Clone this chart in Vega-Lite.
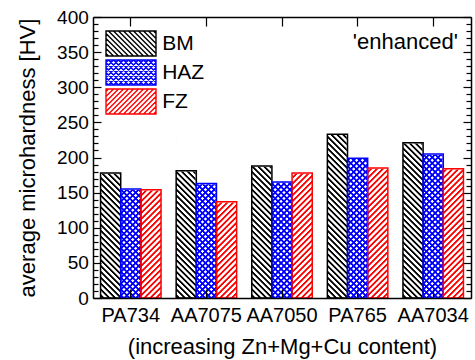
{
  "$schema": "https://vega.github.io/schema/vega-lite/v6.json",
  "width": 378,
  "height": 281,
  "autosize": "none",
  "padding": {"left": 93, "top": 17, "right": 4, "bottom": 62},
  "config": {"view": {"stroke": null}, "font": "Liberation Sans"},
  "data": {"values": [
    {"alloy": "PA734", "series": "BM", "value": 178},
    {"alloy": "PA734", "series": "HAZ", "value": 155},
    {"alloy": "PA734", "series": "FZ", "value": 154},
    {"alloy": "AA7075", "series": "BM", "value": 181},
    {"alloy": "AA7075", "series": "HAZ", "value": 163},
    {"alloy": "AA7075", "series": "FZ", "value": 137},
    {"alloy": "AA7050", "series": "BM", "value": 188},
    {"alloy": "AA7050", "series": "HAZ", "value": 165},
    {"alloy": "AA7050", "series": "FZ", "value": 178},
    {"alloy": "PA765", "series": "BM", "value": 233},
    {"alloy": "PA765", "series": "HAZ", "value": 199},
    {"alloy": "PA765", "series": "FZ", "value": 185},
    {"alloy": "AA7034", "series": "BM", "value": 221},
    {"alloy": "AA7034", "series": "HAZ", "value": 205},
    {"alloy": "AA7034", "series": "FZ", "value": 184}
  ]},
  "layer": [
    {
      "mark": {"type": "bar"},
      "encoding": {
        "x": {"field": "alloy", "type": "nominal",
          "scale": {"domain": ["PA734", "AA7075", "AA7050", "PA765", "AA7034"], "paddingInner": 0.2, "paddingOuter": 0.1},
          "axis": {"orient": "bottom", "title": "(increasing Zn+Mg+Cu content)", "titleFontSize": 22, "titleFontWeight": "normal", "titleColor": "#000", "titlePadding": 11,
            "labelFontSize": 20, "labelColor": "#000", "labelAngle": 0, "labelPadding": 16, "labelOverlap": false,
            "tickSize": -9, "tickColor": "#000", "tickWidth": 1.2, "domainColor": "#000", "domainWidth": 1.5, "zindex": 1}},
        "xOffset": {"field": "series", "type": "nominal", "scale": {"domain": ["BM", "HAZ", "FZ"], "paddingInner": 0, "paddingOuter": 0}},
        "y": {"datum": 250, "type": "quantitative", "scale": {"domain": [0, 400]},
          "axis": {"orient": "left", "title": "average microhardness [HV]", "titleFontSize": 22, "titleFontWeight": "normal", "titleColor": "#000", "titlePadding": 17,
            "grid": false, "values": [0,10,20,30,40,50,60,70,80,90,100,110,120,130,140,150,160,170,180,190,200,210,220,230,240,250,260,270,280,290,300,310,320,330,340,350,360,370,380,390,400],
            "labelExpr": "datum.value % 50 === 0 ? datum.label : ''", "labelFontSize": 19, "labelColor": "#000", "labelPadding": 12.7, "labelOverlap": false, "labelFlush": false,
            "tickSize": {"condition": {"test": "datum.value % 50 === 0", "value": -8}, "value": -5},
            "tickColor": "#000", "tickWidth": 1.2, "domainColor": "#000", "domainWidth": 1.5, "zindex": 1}},
        "y2": {"datum": 0},
        "fill": {
          "condition": [
            {"test": "datum.series === 'BM'", "value": {"gradient": "linear", "x1": 0, "y1": 1, "x2": 0.1263, "y2": -0.1003, "stops": [
              {"offset":0.006,"color":"#fff"},{"offset":0.011,"color":"#000"},{"offset":0.019,"color":"#000"},{"offset":0.024,"color":"#fff"},
              {"offset":0.036,"color":"#fff"},{"offset":0.041,"color":"#000"},{"offset":0.049,"color":"#000"},{"offset":0.054,"color":"#fff"},
              {"offset":0.066,"color":"#fff"},{"offset":0.071,"color":"#000"},{"offset":0.079,"color":"#000"},{"offset":0.084,"color":"#fff"},
              {"offset":0.096,"color":"#fff"},{"offset":0.101,"color":"#000"},{"offset":0.109,"color":"#000"},{"offset":0.114,"color":"#fff"},
              {"offset":0.126,"color":"#fff"},{"offset":0.131,"color":"#000"},{"offset":0.139,"color":"#000"},{"offset":0.144,"color":"#fff"},
              {"offset":0.156,"color":"#fff"},{"offset":0.161,"color":"#000"},{"offset":0.169,"color":"#000"},{"offset":0.174,"color":"#fff"},
              {"offset":0.186,"color":"#fff"},{"offset":0.191,"color":"#000"},{"offset":0.199,"color":"#000"},{"offset":0.204,"color":"#fff"},
              {"offset":0.216,"color":"#fff"},{"offset":0.221,"color":"#000"},{"offset":0.229,"color":"#000"},{"offset":0.234,"color":"#fff"},
              {"offset":0.246,"color":"#fff"},{"offset":0.251,"color":"#000"},{"offset":0.259,"color":"#000"},{"offset":0.264,"color":"#fff"},
              {"offset":0.276,"color":"#fff"},{"offset":0.281,"color":"#000"},{"offset":0.289,"color":"#000"},{"offset":0.294,"color":"#fff"},
              {"offset":0.306,"color":"#fff"},{"offset":0.311,"color":"#000"},{"offset":0.319,"color":"#000"},{"offset":0.324,"color":"#fff"},
              {"offset":0.336,"color":"#fff"},{"offset":0.341,"color":"#000"},{"offset":0.349,"color":"#000"},{"offset":0.354,"color":"#fff"},
              {"offset":0.366,"color":"#fff"},{"offset":0.371,"color":"#000"},{"offset":0.379,"color":"#000"},{"offset":0.384,"color":"#fff"},
              {"offset":0.396,"color":"#fff"},{"offset":0.401,"color":"#000"},{"offset":0.409,"color":"#000"},{"offset":0.414,"color":"#fff"},
              {"offset":0.426,"color":"#fff"},{"offset":0.431,"color":"#000"},{"offset":0.439,"color":"#000"},{"offset":0.444,"color":"#fff"},
              {"offset":0.456,"color":"#fff"},{"offset":0.461,"color":"#000"},{"offset":0.469,"color":"#000"},{"offset":0.474,"color":"#fff"},
              {"offset":0.486,"color":"#fff"},{"offset":0.491,"color":"#000"},{"offset":0.499,"color":"#000"},{"offset":0.504,"color":"#fff"},
              {"offset":0.516,"color":"#fff"},{"offset":0.521,"color":"#000"},{"offset":0.529,"color":"#000"},{"offset":0.534,"color":"#fff"},
              {"offset":0.546,"color":"#fff"},{"offset":0.551,"color":"#000"},{"offset":0.559,"color":"#000"},{"offset":0.564,"color":"#fff"},
              {"offset":0.576,"color":"#fff"},{"offset":0.581,"color":"#000"},{"offset":0.589,"color":"#000"},{"offset":0.594,"color":"#fff"},
              {"offset":0.606,"color":"#fff"},{"offset":0.611,"color":"#000"},{"offset":0.619,"color":"#000"},{"offset":0.624,"color":"#fff"},
              {"offset":0.636,"color":"#fff"},{"offset":0.641,"color":"#000"},{"offset":0.649,"color":"#000"},{"offset":0.654,"color":"#fff"},
              {"offset":0.666,"color":"#fff"},{"offset":0.671,"color":"#000"},{"offset":0.679,"color":"#000"},{"offset":0.684,"color":"#fff"},
              {"offset":0.696,"color":"#fff"},{"offset":0.701,"color":"#000"},{"offset":0.709,"color":"#000"},{"offset":0.714,"color":"#fff"},
              {"offset":0.726,"color":"#fff"},{"offset":0.731,"color":"#000"},{"offset":0.739,"color":"#000"},{"offset":0.744,"color":"#fff"},
              {"offset":0.756,"color":"#fff"},{"offset":0.761,"color":"#000"},{"offset":0.769,"color":"#000"},{"offset":0.774,"color":"#fff"},
              {"offset":0.786,"color":"#fff"},{"offset":0.791,"color":"#000"},{"offset":0.799,"color":"#000"},{"offset":0.804,"color":"#fff"},
              {"offset":0.816,"color":"#fff"},{"offset":0.821,"color":"#000"},{"offset":0.829,"color":"#000"},{"offset":0.834,"color":"#fff"},
              {"offset":0.846,"color":"#fff"},{"offset":0.851,"color":"#000"},{"offset":0.859,"color":"#000"},{"offset":0.864,"color":"#fff"},
              {"offset":0.876,"color":"#fff"},{"offset":0.881,"color":"#000"},{"offset":0.889,"color":"#000"},{"offset":0.894,"color":"#fff"},
              {"offset":0.906,"color":"#fff"},{"offset":0.911,"color":"#000"},{"offset":0.919,"color":"#000"},{"offset":0.924,"color":"#fff"},
              {"offset":0.936,"color":"#fff"},{"offset":0.941,"color":"#000"},{"offset":0.949,"color":"#000"},{"offset":0.954,"color":"#fff"}
            ]}},
            {"test": "datum.series === 'HAZ'", "value": {"gradient": "linear", "x1": 0, "y1": 1, "x2": 0.1263, "y2": -0.1003, "stops": [
              {"offset":0.006,"color":"#fff"},{"offset":0.011,"color":"#00f"},{"offset":0.019,"color":"#00f"},{"offset":0.024,"color":"#fff"},
              {"offset":0.036,"color":"#fff"},{"offset":0.041,"color":"#00f"},{"offset":0.049,"color":"#00f"},{"offset":0.054,"color":"#fff"},
              {"offset":0.066,"color":"#fff"},{"offset":0.071,"color":"#00f"},{"offset":0.079,"color":"#00f"},{"offset":0.084,"color":"#fff"},
              {"offset":0.096,"color":"#fff"},{"offset":0.101,"color":"#00f"},{"offset":0.109,"color":"#00f"},{"offset":0.114,"color":"#fff"},
              {"offset":0.126,"color":"#fff"},{"offset":0.131,"color":"#00f"},{"offset":0.139,"color":"#00f"},{"offset":0.144,"color":"#fff"},
              {"offset":0.156,"color":"#fff"},{"offset":0.161,"color":"#00f"},{"offset":0.169,"color":"#00f"},{"offset":0.174,"color":"#fff"},
              {"offset":0.186,"color":"#fff"},{"offset":0.191,"color":"#00f"},{"offset":0.199,"color":"#00f"},{"offset":0.204,"color":"#fff"},
              {"offset":0.216,"color":"#fff"},{"offset":0.221,"color":"#00f"},{"offset":0.229,"color":"#00f"},{"offset":0.234,"color":"#fff"},
              {"offset":0.246,"color":"#fff"},{"offset":0.251,"color":"#00f"},{"offset":0.259,"color":"#00f"},{"offset":0.264,"color":"#fff"},
              {"offset":0.276,"color":"#fff"},{"offset":0.281,"color":"#00f"},{"offset":0.289,"color":"#00f"},{"offset":0.294,"color":"#fff"},
              {"offset":0.306,"color":"#fff"},{"offset":0.311,"color":"#00f"},{"offset":0.319,"color":"#00f"},{"offset":0.324,"color":"#fff"},
              {"offset":0.336,"color":"#fff"},{"offset":0.341,"color":"#00f"},{"offset":0.349,"color":"#00f"},{"offset":0.354,"color":"#fff"},
              {"offset":0.366,"color":"#fff"},{"offset":0.371,"color":"#00f"},{"offset":0.379,"color":"#00f"},{"offset":0.384,"color":"#fff"},
              {"offset":0.396,"color":"#fff"},{"offset":0.401,"color":"#00f"},{"offset":0.409,"color":"#00f"},{"offset":0.414,"color":"#fff"},
              {"offset":0.426,"color":"#fff"},{"offset":0.431,"color":"#00f"},{"offset":0.439,"color":"#00f"},{"offset":0.444,"color":"#fff"},
              {"offset":0.456,"color":"#fff"},{"offset":0.461,"color":"#00f"},{"offset":0.469,"color":"#00f"},{"offset":0.474,"color":"#fff"},
              {"offset":0.486,"color":"#fff"},{"offset":0.491,"color":"#00f"},{"offset":0.499,"color":"#00f"},{"offset":0.504,"color":"#fff"},
              {"offset":0.516,"color":"#fff"},{"offset":0.521,"color":"#00f"},{"offset":0.529,"color":"#00f"},{"offset":0.534,"color":"#fff"},
              {"offset":0.546,"color":"#fff"},{"offset":0.551,"color":"#00f"},{"offset":0.559,"color":"#00f"},{"offset":0.564,"color":"#fff"},
              {"offset":0.576,"color":"#fff"},{"offset":0.581,"color":"#00f"},{"offset":0.589,"color":"#00f"},{"offset":0.594,"color":"#fff"},
              {"offset":0.606,"color":"#fff"},{"offset":0.611,"color":"#00f"},{"offset":0.619,"color":"#00f"},{"offset":0.624,"color":"#fff"},
              {"offset":0.636,"color":"#fff"},{"offset":0.641,"color":"#00f"},{"offset":0.649,"color":"#00f"},{"offset":0.654,"color":"#fff"},
              {"offset":0.666,"color":"#fff"},{"offset":0.671,"color":"#00f"},{"offset":0.679,"color":"#00f"},{"offset":0.684,"color":"#fff"},
              {"offset":0.696,"color":"#fff"},{"offset":0.701,"color":"#00f"},{"offset":0.709,"color":"#00f"},{"offset":0.714,"color":"#fff"},
              {"offset":0.726,"color":"#fff"},{"offset":0.731,"color":"#00f"},{"offset":0.739,"color":"#00f"},{"offset":0.744,"color":"#fff"},
              {"offset":0.756,"color":"#fff"},{"offset":0.761,"color":"#00f"},{"offset":0.769,"color":"#00f"},{"offset":0.774,"color":"#fff"},
              {"offset":0.786,"color":"#fff"},{"offset":0.791,"color":"#00f"},{"offset":0.799,"color":"#00f"},{"offset":0.804,"color":"#fff"},
              {"offset":0.816,"color":"#fff"},{"offset":0.821,"color":"#00f"},{"offset":0.829,"color":"#00f"},{"offset":0.834,"color":"#fff"},
              {"offset":0.846,"color":"#fff"},{"offset":0.851,"color":"#00f"},{"offset":0.859,"color":"#00f"},{"offset":0.864,"color":"#fff"},
              {"offset":0.876,"color":"#fff"},{"offset":0.881,"color":"#00f"},{"offset":0.889,"color":"#00f"},{"offset":0.894,"color":"#fff"}
            ]}}
          ],
          "value": {"gradient": "linear", "x1": 0, "y1": 0, "x2": 0.1263, "y2": 1.1003, "stops": [
            {"offset":0.216,"color":"#fff"},{"offset":0.221,"color":"#f00"},{"offset":0.229,"color":"#f00"},{"offset":0.234,"color":"#fff"},
            {"offset":0.246,"color":"#fff"},{"offset":0.251,"color":"#f00"},{"offset":0.259,"color":"#f00"},{"offset":0.264,"color":"#fff"},
            {"offset":0.276,"color":"#fff"},{"offset":0.281,"color":"#f00"},{"offset":0.289,"color":"#f00"},{"offset":0.294,"color":"#fff"},
            {"offset":0.306,"color":"#fff"},{"offset":0.311,"color":"#f00"},{"offset":0.319,"color":"#f00"},{"offset":0.324,"color":"#fff"},
            {"offset":0.336,"color":"#fff"},{"offset":0.341,"color":"#f00"},{"offset":0.349,"color":"#f00"},{"offset":0.354,"color":"#fff"},
            {"offset":0.366,"color":"#fff"},{"offset":0.371,"color":"#f00"},{"offset":0.379,"color":"#f00"},{"offset":0.384,"color":"#fff"},
            {"offset":0.396,"color":"#fff"},{"offset":0.401,"color":"#f00"},{"offset":0.409,"color":"#f00"},{"offset":0.414,"color":"#fff"},
            {"offset":0.426,"color":"#fff"},{"offset":0.431,"color":"#f00"},{"offset":0.439,"color":"#f00"},{"offset":0.444,"color":"#fff"},
            {"offset":0.456,"color":"#fff"},{"offset":0.461,"color":"#f00"},{"offset":0.469,"color":"#f00"},{"offset":0.474,"color":"#fff"},
            {"offset":0.486,"color":"#fff"},{"offset":0.491,"color":"#f00"},{"offset":0.499,"color":"#f00"},{"offset":0.504,"color":"#fff"},
            {"offset":0.516,"color":"#fff"},{"offset":0.521,"color":"#f00"},{"offset":0.529,"color":"#f00"},{"offset":0.534,"color":"#fff"},
            {"offset":0.546,"color":"#fff"},{"offset":0.551,"color":"#f00"},{"offset":0.559,"color":"#f00"},{"offset":0.564,"color":"#fff"},
            {"offset":0.576,"color":"#fff"},{"offset":0.581,"color":"#f00"},{"offset":0.589,"color":"#f00"},{"offset":0.594,"color":"#fff"},
            {"offset":0.606,"color":"#fff"},{"offset":0.611,"color":"#f00"},{"offset":0.619,"color":"#f00"},{"offset":0.624,"color":"#fff"},
            {"offset":0.636,"color":"#fff"},{"offset":0.641,"color":"#f00"},{"offset":0.649,"color":"#f00"},{"offset":0.654,"color":"#fff"},
            {"offset":0.666,"color":"#fff"},{"offset":0.671,"color":"#f00"},{"offset":0.679,"color":"#f00"},{"offset":0.684,"color":"#fff"},
            {"offset":0.696,"color":"#fff"},{"offset":0.701,"color":"#f00"},{"offset":0.709,"color":"#f00"},{"offset":0.714,"color":"#fff"},
            {"offset":0.726,"color":"#fff"},{"offset":0.731,"color":"#f00"},{"offset":0.739,"color":"#f00"},{"offset":0.744,"color":"#fff"},
            {"offset":0.756,"color":"#fff"},{"offset":0.761,"color":"#f00"},{"offset":0.769,"color":"#f00"},{"offset":0.774,"color":"#fff"},
            {"offset":0.786,"color":"#fff"},{"offset":0.791,"color":"#f00"},{"offset":0.799,"color":"#f00"},{"offset":0.804,"color":"#fff"},
            {"offset":0.816,"color":"#fff"},{"offset":0.821,"color":"#f00"},{"offset":0.829,"color":"#f00"},{"offset":0.834,"color":"#fff"},
            {"offset":0.846,"color":"#fff"},{"offset":0.851,"color":"#f00"},{"offset":0.859,"color":"#f00"},{"offset":0.864,"color":"#fff"},
            {"offset":0.876,"color":"#fff"},{"offset":0.881,"color":"#f00"},{"offset":0.889,"color":"#f00"},{"offset":0.894,"color":"#fff"},
            {"offset":0.906,"color":"#fff"},{"offset":0.911,"color":"#f00"},{"offset":0.919,"color":"#f00"},{"offset":0.924,"color":"#fff"},
            {"offset":0.936,"color":"#fff"},{"offset":0.941,"color":"#f00"},{"offset":0.949,"color":"#f00"},{"offset":0.954,"color":"#fff"},
            {"offset":0.966,"color":"#fff"},{"offset":0.971,"color":"#f00"},{"offset":0.979,"color":"#f00"},{"offset":0.984,"color":"#fff"}
          ]}
        }
      }
    },
    {
      "transform": [{"filter": "datum.series === 'HAZ'"}],
      "mark": {"type": "bar"},
      "encoding": {
        "x": {"field": "alloy", "type": "nominal",
          "scale": {"domain": ["PA734", "AA7075", "AA7050", "PA765", "AA7034"], "paddingInner": 0.2, "paddingOuter": 0.1},
          "axis": {"orient": "top", "title": null, "labels": false, "tickSize": -9, "tickColor": "#000", "tickWidth": 1.2, "domainColor": "#000", "domainWidth": 1.5, "zindex": 1}},
        "xOffset": {"field": "series", "type": "nominal", "scale": {"domain": ["BM", "HAZ", "FZ"], "paddingInner": 0, "paddingOuter": 0}},
        "y": {"datum": 250, "type": "quantitative", "scale": {"domain": [0, 400]},
          "axis": {"orient": "right", "title": null, "labels": false, "grid": false,
            "values": [0,10,20,30,40,50,60,70,80,90,100,110,120,130,140,150,160,170,180,190,200,210,220,230,240,250,260,270,280,290,300,310,320,330,340,350,360,370,380,390,400],
            "tickSize": {"condition": {"test": "datum.value % 50 === 0", "value": -8}, "value": -5},
            "tickColor": "#000", "tickWidth": 1.2, "domainColor": "#000", "domainWidth": 1.5, "zindex": 1}},
        "y2": {"datum": 0},
        "fill": {"value": {"gradient": "linear", "x1": 0, "y1": 0, "x2": 0.1263, "y2": 1.1003, "stops": [
          {"offset":0.156,"color":"#00f0"},{"offset":0.161,"color":"#00f"},{"offset":0.169,"color":"#00f"},{"offset":0.174,"color":"#00f0"},
          {"offset":0.186,"color":"#00f0"},{"offset":0.191,"color":"#00f"},{"offset":0.199,"color":"#00f"},{"offset":0.204,"color":"#00f0"},
          {"offset":0.216,"color":"#00f0"},{"offset":0.221,"color":"#00f"},{"offset":0.229,"color":"#00f"},{"offset":0.234,"color":"#00f0"},
          {"offset":0.246,"color":"#00f0"},{"offset":0.251,"color":"#00f"},{"offset":0.259,"color":"#00f"},{"offset":0.264,"color":"#00f0"},
          {"offset":0.276,"color":"#00f0"},{"offset":0.281,"color":"#00f"},{"offset":0.289,"color":"#00f"},{"offset":0.294,"color":"#00f0"},
          {"offset":0.306,"color":"#00f0"},{"offset":0.311,"color":"#00f"},{"offset":0.319,"color":"#00f"},{"offset":0.324,"color":"#00f0"},
          {"offset":0.336,"color":"#00f0"},{"offset":0.341,"color":"#00f"},{"offset":0.349,"color":"#00f"},{"offset":0.354,"color":"#00f0"},
          {"offset":0.366,"color":"#00f0"},{"offset":0.371,"color":"#00f"},{"offset":0.379,"color":"#00f"},{"offset":0.384,"color":"#00f0"},
          {"offset":0.396,"color":"#00f0"},{"offset":0.401,"color":"#00f"},{"offset":0.409,"color":"#00f"},{"offset":0.414,"color":"#00f0"},
          {"offset":0.426,"color":"#00f0"},{"offset":0.431,"color":"#00f"},{"offset":0.439,"color":"#00f"},{"offset":0.444,"color":"#00f0"},
          {"offset":0.456,"color":"#00f0"},{"offset":0.461,"color":"#00f"},{"offset":0.469,"color":"#00f"},{"offset":0.474,"color":"#00f0"},
          {"offset":0.486,"color":"#00f0"},{"offset":0.491,"color":"#00f"},{"offset":0.499,"color":"#00f"},{"offset":0.504,"color":"#00f0"},
          {"offset":0.516,"color":"#00f0"},{"offset":0.521,"color":"#00f"},{"offset":0.529,"color":"#00f"},{"offset":0.534,"color":"#00f0"},
          {"offset":0.546,"color":"#00f0"},{"offset":0.551,"color":"#00f"},{"offset":0.559,"color":"#00f"},{"offset":0.564,"color":"#00f0"},
          {"offset":0.576,"color":"#00f0"},{"offset":0.581,"color":"#00f"},{"offset":0.589,"color":"#00f"},{"offset":0.594,"color":"#00f0"},
          {"offset":0.606,"color":"#00f0"},{"offset":0.611,"color":"#00f"},{"offset":0.619,"color":"#00f"},{"offset":0.624,"color":"#00f0"},
          {"offset":0.636,"color":"#00f0"},{"offset":0.641,"color":"#00f"},{"offset":0.649,"color":"#00f"},{"offset":0.654,"color":"#00f0"},
          {"offset":0.666,"color":"#00f0"},{"offset":0.671,"color":"#00f"},{"offset":0.679,"color":"#00f"},{"offset":0.684,"color":"#00f0"},
          {"offset":0.696,"color":"#00f0"},{"offset":0.701,"color":"#00f"},{"offset":0.709,"color":"#00f"},{"offset":0.714,"color":"#00f0"},
          {"offset":0.726,"color":"#00f0"},{"offset":0.731,"color":"#00f"},{"offset":0.739,"color":"#00f"},{"offset":0.744,"color":"#00f0"},
          {"offset":0.756,"color":"#00f0"},{"offset":0.761,"color":"#00f"},{"offset":0.769,"color":"#00f"},{"offset":0.774,"color":"#00f0"},
          {"offset":0.786,"color":"#00f0"},{"offset":0.791,"color":"#00f"},{"offset":0.799,"color":"#00f"},{"offset":0.804,"color":"#00f0"},
          {"offset":0.816,"color":"#00f0"},{"offset":0.821,"color":"#00f"},{"offset":0.829,"color":"#00f"},{"offset":0.834,"color":"#00f0"},
          {"offset":0.846,"color":"#00f0"},{"offset":0.851,"color":"#00f"},{"offset":0.859,"color":"#00f"},{"offset":0.864,"color":"#00f0"},
          {"offset":0.876,"color":"#00f0"},{"offset":0.881,"color":"#00f"},{"offset":0.889,"color":"#00f"},{"offset":0.894,"color":"#00f0"},
          {"offset":0.906,"color":"#00f0"},{"offset":0.911,"color":"#00f"},{"offset":0.919,"color":"#00f"},{"offset":0.924,"color":"#00f0"},
          {"offset":0.936,"color":"#00f0"},{"offset":0.941,"color":"#00f"},{"offset":0.949,"color":"#00f"},{"offset":0.954,"color":"#00f0"},
          {"offset":0.966,"color":"#00f0"},{"offset":0.971,"color":"#00f"},{"offset":0.979,"color":"#00f"},{"offset":0.984,"color":"#00f0"}
        ]}}
      }
    },
    {
      "mark": {"type": "bar", "fill": "#fff", "stroke": "#fff", "strokeWidth": 1.5},
      "encoding": {
        "x": {"field": "alloy", "type": "nominal", "scale": {"domain": ["PA734", "AA7075", "AA7050", "PA765", "AA7034"], "paddingInner": 0.2, "paddingOuter": 0.1}, "axis": null},
        "xOffset": {"field": "series", "type": "nominal", "scale": {"domain": ["BM", "HAZ", "FZ"], "paddingInner": 0, "paddingOuter": 0}},
        "y": {"field": "value", "type": "quantitative", "scale": {"domain": [0, 400]}, "axis": null},
        "y2": {"datum": 250}
      }
    },
    {
      "mark": {"type": "bar", "fill": "transparent", "strokeWidth": 1.5},
      "encoding": {
        "x": {"field": "alloy", "type": "nominal", "scale": {"domain": ["PA734", "AA7075", "AA7050", "PA765", "AA7034"], "paddingInner": 0.2, "paddingOuter": 0.1}, "axis": null},
        "xOffset": {"field": "series", "type": "nominal", "scale": {"domain": ["BM", "HAZ", "FZ"], "paddingInner": 0, "paddingOuter": 0}},
        "y": {"field": "value", "type": "quantitative", "scale": {"domain": [0, 400]}, "axis": null},
        "stroke": {"condition": [{"test": "datum.series === 'BM'", "value": "#000"}, {"test": "datum.series === 'HAZ'", "value": "#00f"}], "value": "#f00"}
      }
    },
    {
      "mark": {"type": "point", "opacity": 0, "filled": false},
      "encoding": {
        "x": {"field": "alloy", "type": "nominal", "scale": {"domain": ["PA734", "AA7075", "AA7050", "PA765", "AA7034"], "paddingInner": 0.2, "paddingOuter": 0.1}, "axis": null},
        "xOffset": {"field": "series", "type": "nominal", "scale": {"domain": ["BM", "HAZ", "FZ"], "paddingInner": 0, "paddingOuter": 0}},
        "y": {"field": "value", "type": "quantitative", "scale": {"domain": [0, 400]}, "axis": null},
        "stroke": {"field": "series", "type": "nominal",
          "scale": {"domain": ["BM", "HAZ", "FZ"], "range": ["#000000", "#0000ff", "#ff0000"]},
          "legend": {"title": null, "orient": "top-left", "offset": 13, "padding": 0,
            "labelFont": "Liberation Sans", "labelFontSize": 21, "labelColor": "#000", "labelOffset": 17.7,
            "symbolSize": 625, "symbolOffset": 11.5, "symbolStrokeWidth": 1.4, "symbolOpacity": 1, "symbolFillColor": "transparent", "rowPadding": -3.5}},
        "shape": {"field": "series", "type": "nominal",
          "scale": {"domain": ["BM", "HAZ", "FZ"], "range": [
            "M-2,-1H2V1H-2Z M1.8,-1L2,-0.8 M1.4,-1L2,-0.4 M1,-1L2,0 M0.6,-1L2,0.4 M0.2,-1L2,0.8 M-0.2,-1L1.8,1 M-0.6,-1L1.4,1 M-1,-1L1,1 M-1.4,-1L0.6,1 M-1.8,-1L0.2,1 M-2,-0.8L-0.2,1 M-2,-0.4L-0.6,1 M-2,0L-1,1 M-2,0.4L-1.4,1 M-2,0.8L-1.8,1",
            "M-2,-1H2V1H-2Z M1.8,-1L2,-0.8 M1.4,-1L2,-0.4 M1,-1L2,0 M0.6,-1L2,0.4 M0.2,-1L2,0.8 M-0.2,-1L1.8,1 M-0.6,-1L1.4,1 M-1,-1L1,1 M-1.4,-1L0.6,1 M-1.8,-1L0.2,1 M-2,-0.8L-0.2,1 M-2,-0.4L-0.6,1 M-2,0L-1,1 M-2,0.4L-1.4,1 M-2,0.8L-1.8,1 M-1.8,-1L-2,-0.8 M-1.4,-1L-2,-0.4 M-1,-1L-2,0 M-0.6,-1L-2,0.4 M-0.2,-1L-2,0.8 M0.2,-1L-1.8,1 M0.6,-1L-1.4,1 M1,-1L-1,1 M1.4,-1L-0.6,1 M1.8,-1L-0.2,1 M2,-0.8L0.2,1 M2,-0.4L0.6,1 M2,0L1,1 M2,0.4L1.4,1 M2,0.8L1.8,1",
            "M-2,-1H2V1H-2Z M-1.8,-1L-2,-0.8 M-1.4,-1L-2,-0.4 M-1,-1L-2,0 M-0.6,-1L-2,0.4 M-0.2,-1L-2,0.8 M0.2,-1L-1.8,1 M0.6,-1L-1.4,1 M1,-1L-1,1 M1.4,-1L-0.6,1 M1.8,-1L-0.2,1 M2,-0.8L0.2,1 M2,-0.4L0.6,1 M2,0L1,1 M2,0.4L1.4,1 M2,0.8L1.8,1"
          ]},
          "legend": {"title": null, "orient": "top-left", "offset": 13, "padding": 0,
            "labelFont": "Liberation Sans", "labelFontSize": 21, "labelColor": "#000", "labelOffset": 17.7,
            "symbolSize": 625, "symbolOffset": 11.5, "symbolStrokeWidth": 1.4, "symbolOpacity": 1, "symbolFillColor": "transparent", "rowPadding": -3.5}}
      }
    },
    {
      "data": {"values": [{"note": "'enhanced'"}]},
      "mark": {"type": "text", "align": "right", "baseline": "alphabetic", "font": "Liberation Sans", "fontSize": 22, "fontWeight": "normal", "fill": "#000"},
      "encoding": {
        "text": {"field": "note", "type": "nominal"},
        "x": {"datum": "AA7034", "type": "nominal", "bandPosition": 0.908, "scale": {"domain": ["PA734", "AA7075", "AA7050", "PA765", "AA7034"], "paddingInner": 0.2, "paddingOuter": 0.1}, "axis": null},
        "y": {"datum": 354.4, "type": "quantitative", "scale": {"domain": [0, 400]}, "axis": null}
      }
    }
  ],
  "resolve": {"axis": {"x": "independent", "y": "independent"}}
}
